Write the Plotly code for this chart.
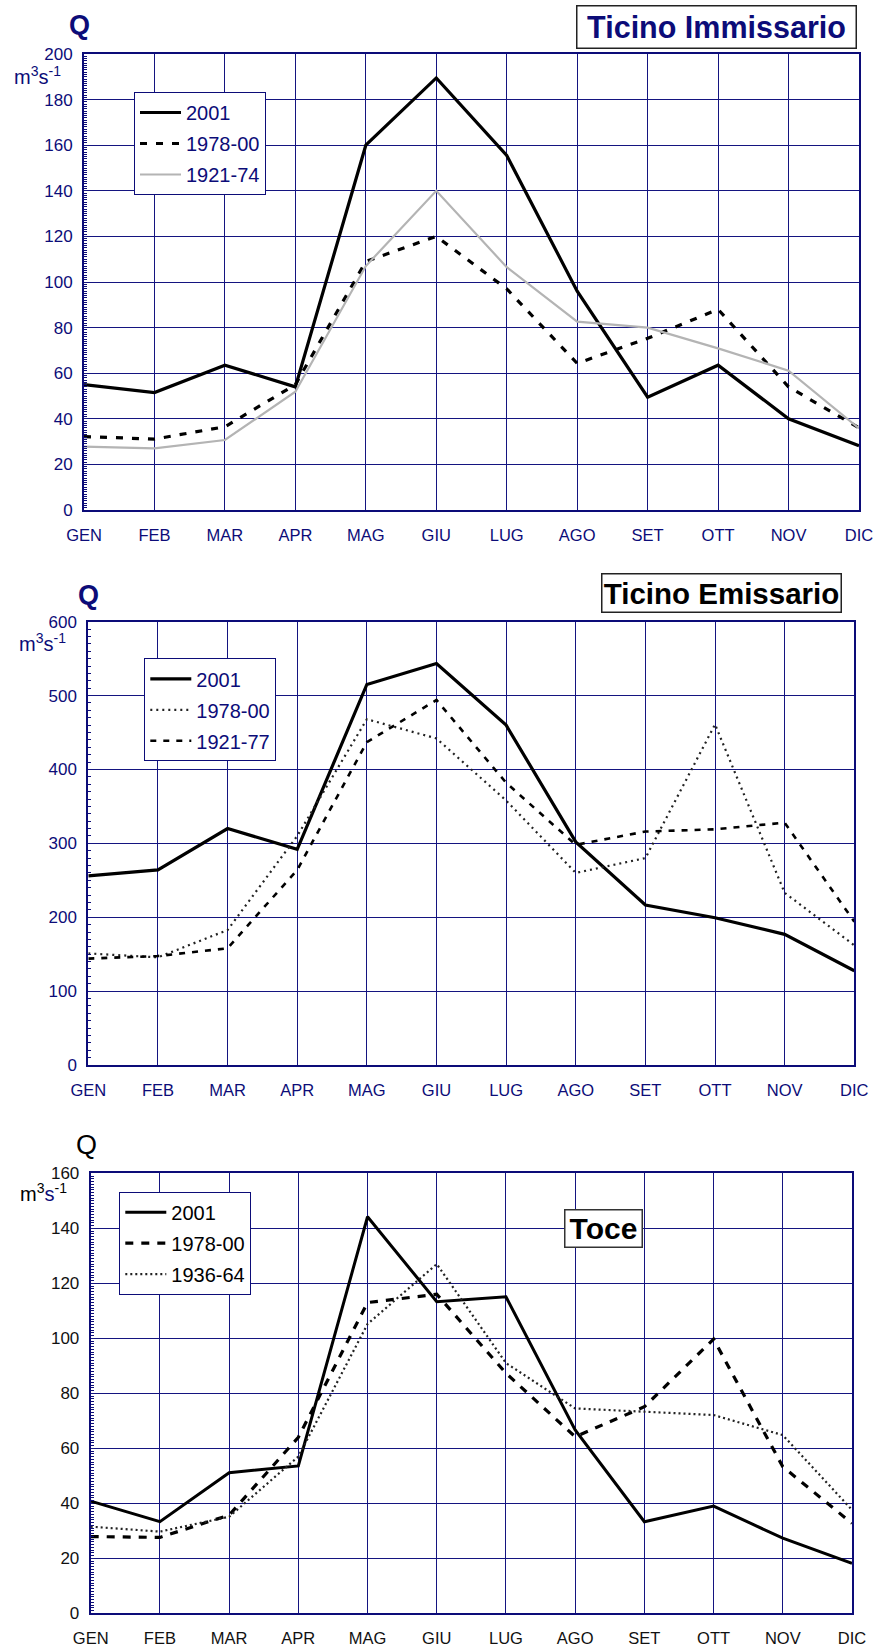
import plotly.graph_objects as go

W, H = 879, 1650
MONTHS = ["GEN", "FEB", "MAR", "APR", "MAG", "GIU", "LUG", "AGO", "SET", "OTT", "NOV", "DIC"]

# Ticino Immissario (m3/s)
imm_2001 = [55, 51.5, 63.5, 54, 160, 189.5, 155.5, 96, 49.5, 63.5, 40, 28.2]
imm_1978_00 = [32.2, 31.1, 36.5, 55, 109, 120, 97, 64.3, 75.3, 88, 54, 36]
imm_1921_74 = [27.8, 27, 30.7, 51.9, 107, 140, 106.5, 82.6, 80, 70.9, 61.1, 35.8]

# Ticino Emissario (m3/s)
emi_2001 = [256, 264, 320, 292, 515, 543.5, 460, 302, 216.5, 199.3, 176.8, 127.6]
emi_1978_00 = [151, 145.7, 182.7, 310, 468, 442, 358, 260, 280, 461, 233, 162]
emi_1921_77 = [144, 147.5, 158, 264, 437, 494, 382, 298, 316, 319, 328, 194]

# Toce (m3/s)
toce_2001 = [40.8, 33.3, 51.1, 53.6, 144.2, 113.3, 115.1, 66.7, 33.3, 39, 27.3, 18.2]
toce_1978_00 = [27.9, 27.6, 35.7, 64, 113, 116, 87.3, 64.2, 75.1, 99.7, 53.3, 32.7]
toce_1936_64 = [31.5, 29.7, 35.1, 57, 105.2, 127, 91, 74.5, 73.3, 72.1, 64.8, 37.6]

NAVY = "#0c0c78"
GRID = "#141480"
FONT = "Arial, 'Liberation Sans', sans-serif"
X = list(range(12))


def px(x):
    return x / W


def py(y):
    return 1 - y / H


fig = go.Figure()

# panels: (left, right, top, bottom) in pixels
panels = [
    dict(box=(84, 859, 54, 510), ymax=200, dtick=20, minor=1, tcol=NAVY),
    dict(box=(88.3, 854.3, 621.7, 1065), ymax=600, dtick=100, minor=10, tcol=NAVY),
    dict(box=(90.7, 852, 1173.3, 1613.3), ymax=160, dtick=20, minor=1, tcol="#111111"),
]

series = [
    [("2001", imm_2001, dict(color="black", width=3.2)),
     ("1978-00", imm_1978_00, dict(color="black", width=3.2, dash="7px,9px")),
     ("1921-74", imm_1921_74, dict(color="#b4b4b4", width=2.2))],
    [("2001", emi_2001, dict(color="black", width=3.2)),
     ("1978-00", emi_1978_00, dict(color="#222222", width=2.2, dash="2px,4px")),
     ("1921-77", emi_1921_77, dict(color="black", width=2.6, dash="6px,7px"))],
    [("2001", toce_2001, dict(color="black", width=3)),
     ("1978-00", toce_1978_00, dict(color="black", width=3.2, dash="8px,8px")),
     ("1936-64", toce_1936_64, dict(color="#222222", width=2.2, dash="2px,3px"))],
]

legend_pos = [(134, 92), (144.3, 658.3), (119.3, 1191.7)]
legend_col = [NAVY, NAVY, "black"]

layout = dict(
    width=W, height=H, margin=dict(l=0, r=0, t=0, b=0, autoexpand=False),
    paper_bgcolor="white", plot_bgcolor="white",
    font=dict(family=FONT, color=NAVY), showlegend=True,
)

for i, p in enumerate(panels):
    n = "" if i == 0 else str(i + 1)
    l, r, t, b = p["box"]
    layout["xaxis" + n] = dict(
        domain=[px(l), px(r)], anchor="y" + n, range=[0, 11],
        tickvals=X, ticktext=MONTHS, ticks="", ticklabelstandoff=9,
        tickfont=dict(size=16.5, color=p["tcol"], family=FONT),
        showgrid=True, gridcolor=GRID, gridwidth=1,
        showline=True, mirror=True, linecolor=NAVY, linewidth=2, zeroline=False,
        fixedrange=True, automargin=False,
    )
    layout["yaxis" + n] = dict(
        domain=[py(b), py(t)], anchor="x" + n, range=[0, p["ymax"]],
        dtick=p["dtick"], tick0=0, ticks="", ticklabelstandoff=6,
        tickfont=dict(size=17, color=p["tcol"], family=FONT),
        showgrid=True, gridcolor=GRID, gridwidth=1,
        showline=True, mirror=True, linecolor=NAVY, linewidth=2, zeroline=False,
        minor=dict(ticks="inside", ticklen=3, dtick=p["minor"], tickcolor=NAVY,
                   tickwidth=1, showgrid=False),
        fixedrange=True, automargin=False,
    )
    leg = "legend" if i == 0 else "legend" + str(i + 1)
    lx, ly = legend_pos[i]
    layout[leg] = dict(
        x=px(lx), y=py(ly), xanchor="left", yanchor="top",
        bgcolor="white", bordercolor=NAVY, borderwidth=1,
        font=dict(size=20, color=legend_col[i], family=FONT),
        tracegroupgap=2, itemwidth=41,
    )
    for name, vals, line in series[i]:
        fig.add_trace(go.Scatter(
            x=X, y=vals, mode="lines", name=name, line=line,
            xaxis="x" + n, yaxis="y" + n, legend=leg,
            legendgroup=f"{i}-{name}", hoverinfo="skip",
        ))

annotations = []


def ann(text, cx, cy, size, color, **kw):
    d = dict(text=text, x=px(cx), y=py(cy), xref="paper", yref="paper",
             xanchor="center", yanchor="middle", showarrow=False,
             font=dict(size=size, color=color, family=FONT))
    d.update(kw)
    annotations.append(d)


# Q labels
ann("<b>Q</b>", 79, 25, 27, NAVY)
ann("<b>Q</b>", 88.5, 595, 27, NAVY)
ann("Q", 86.5, 1145, 27, "black")

# unit labels
ann("m<sup>3</sup>s<sup>-1</sup>", 37, 76, 20, NAVY)
ann("m<sup>3</sup>s<sup>-1</sup>", 42, 642, 20, NAVY)
ann("m<sup>3</sup><span style='color:#0c0c78'>s</span><sup>-1</sup>", 43, 1192, 20, "black")

# title boxes
ann("<b>Ticino Immissario</b>", 716.5, 27, 30.5, NAVY,
    bordercolor="#222222", borderwidth=1.5, bgcolor="white", borderpad=0,
    width=278, height=41)
ann("<b>Ticino Emissario</b>", 721.5, 593.3, 29.5, "black",
    bordercolor="#222222", borderwidth=1.5, bgcolor="white", borderpad=0,
    width=238, height=37)
ann("<b>Toce</b>", 603, 1228.8, 30, "black",
    bordercolor="#333333", borderwidth=1.5, bgcolor="white", borderpad=0,
    width=76, height=36)

layout["annotations"] = annotations
fig.update_layout(**layout)
fig.write_html("out.html")
